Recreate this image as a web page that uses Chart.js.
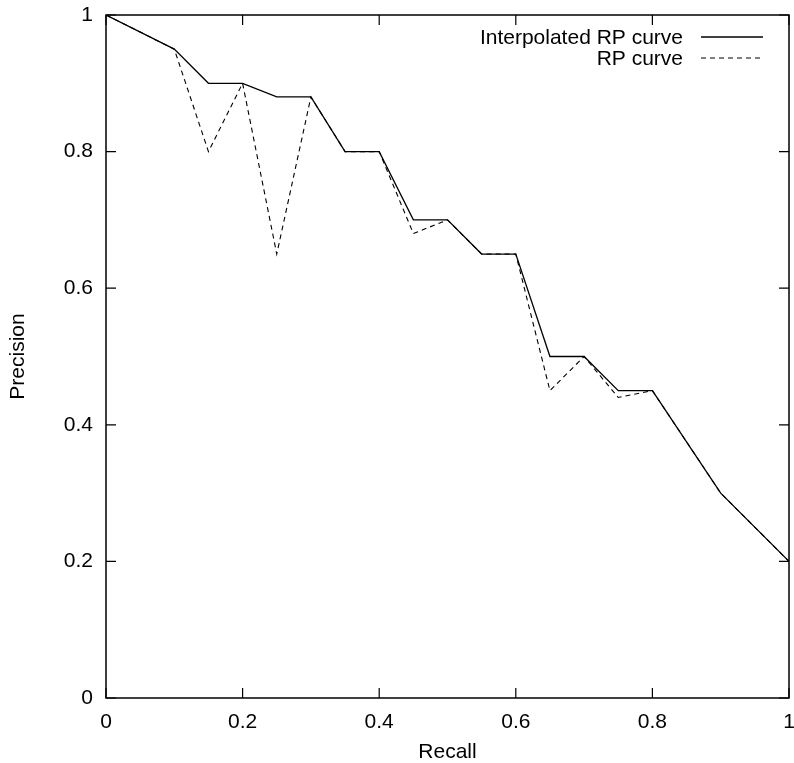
<!DOCTYPE html>
<html>
<head>
<meta charset="utf-8">
<script src="https://cdn.jsdelivr.net/npm/chart.js@4/dist/chart.umd.min.js"></script>
<style>
  html, body { margin: 0; padding: 0; background: #fff; }
  #wrap { width: 794px; height: 763px; }
</style>
</head>
<body>
<div id="wrap"><canvas id="rp-chart" width="794" height="763"></canvas></div>
<script>
// recall levels and the two precision series
const recall = [0, 0.1, 0.15, 0.2, 0.25, 0.3, 0.35, 0.4, 0.45, 0.5, 0.55, 0.6, 0.65, 0.7, 0.75, 0.8, 0.9, 1];
const interpPrecision = [1, 0.95, 0.9, 0.9, 0.88, 0.88, 0.8, 0.8, 0.7, 0.7, 0.65, 0.65, 0.5, 0.5, 0.45, 0.45, 0.3, 0.2];
const rpPrecision = [1, 0.95, 0.8, 0.9, 0.65, 0.88, 0.8, 0.8, 0.68, 0.7, 0.65, 0.65, 0.45, 0.5, 0.44, 0.45, 0.3, 0.2];
const tickValues = [0, 0.2, 0.4, 0.6, 0.8, 1];
const tickLabels = ['0', '0.2', '0.4', '0.6', '0.8', '1'];
const seriesLabels = ['Interpolated RP curve', 'RP curve'];

const FONT = "'Liberation Sans', Arial, Helvetica, sans-serif";

function toPoints(xs, ys) {
  return xs.map((x, i) => ({ x: x, y: ys[i] }));
}

function tickText(value) {
  const i = tickValues.indexOf(value);
  return i >= 0 ? tickLabels[i] : '';
}

// frame + inward ticks on all four sides, gnuplot style
const framePlugin = {
  id: 'frame',
  afterDatasetsDraw(chart) {
    const { ctx, chartArea: a, scales } = chart;
    const len = 10;
    ctx.save();
    ctx.strokeStyle = '#000';
    ctx.lineWidth = 1.5;
    ctx.strokeRect(a.left, a.top, a.right - a.left, a.bottom - a.top);
    ctx.lineWidth = 1.2;
    ctx.beginPath();
    tickValues.forEach(v => {
      const px = scales.x.getPixelForValue(v);
      ctx.moveTo(px, a.bottom); ctx.lineTo(px, a.bottom - len);
      ctx.moveTo(px, a.top); ctx.lineTo(px, a.top + len);
      const py = scales.y.getPixelForValue(v);
      ctx.moveTo(a.left, py); ctx.lineTo(a.left + len, py);
      ctx.moveTo(a.right, py); ctx.lineTo(a.right - len, py);
    });
    ctx.stroke();
    ctx.restore();
  }
};

// key in the top right corner: text first, line sample after it
const keyPlugin = {
  id: 'key',
  afterDraw(chart) {
    const { ctx, chartArea: a } = chart;
    const textRight = a.right - 106;
    const lineStart = a.right - 88;
    const lineEnd = a.right - 26;
    ctx.save();
    ctx.font = '21px ' + FONT;
    ctx.fillStyle = '#000';
    ctx.textAlign = 'right';
    ctx.textBaseline = 'middle';
    chart.data.datasets.forEach((ds, i) => {
      const y = a.top + 22 + i * 21;
      ctx.fillText(ds.label, textRight, y + 1);
      ctx.beginPath();
      ctx.strokeStyle = ds.borderColor;
      ctx.lineWidth = ds.borderWidth;
      ctx.setLineDash(ds.borderDash || []);
      ctx.moveTo(lineStart, y);
      ctx.lineTo(lineEnd, y);
      ctx.stroke();
    });
    ctx.restore();
  }
};

const ctx = document.getElementById('rp-chart').getContext('2d');
new Chart(ctx, {
  type: 'line',
  data: {
    datasets: [
      {
        label: seriesLabels[0],
        data: toPoints(recall, interpPrecision),
        borderColor: '#000',
        borderWidth: 1.3,
        pointRadius: 0,
        tension: 0,
        fill: false
      },
      {
        label: seriesLabels[1],
        data: toPoints(recall, rpPrecision),
        borderColor: '#000',
        borderWidth: 1.1,
        borderDash: [5, 4],
        pointRadius: 0,
        tension: 0,
        fill: false
      }
    ]
  },
  options: {
    responsive: false,
    animation: false,
    layout: { padding: { top: 15, right: 5, left: 0, bottom: 0 } },
    plugins: {
      legend: { display: false },
      tooltip: { enabled: false }
    },
    scales: {
      x: {
        type: 'linear',
        min: 0,
        max: 1,
        afterBuildTicks: scale => { scale.ticks = tickValues.map(v => ({ value: v })); },
        afterFit: scale => {
          scale.height = 65;
          scale.paddingLeft = 0;
          scale.paddingRight = 0;
        },
        grid: { display: false, drawTicks: false },
        border: { display: false },
        ticks: { color: '#000', font: { family: FONT, size: 21 }, padding: 12, maxRotation: 0, callback: v => tickText(v) },
        title: { display: true, text: 'Recall', color: '#000', font: { family: FONT, size: 21 }, padding: { top: 0, bottom: -2 } }
      },
      y: {
        type: 'linear',
        min: 0,
        max: 1,
        afterBuildTicks: scale => { scale.ticks = tickValues.map(v => ({ value: v })); },
        afterFit: scale => {
          scale.width = 106;
          scale.paddingTop = 0;
          scale.paddingBottom = 0;
        },
        grid: { display: false, drawTicks: false },
        border: { display: false },
        ticks: { color: '#000', font: { family: FONT, size: 21 }, padding: 13, callback: v => tickText(v) },
        title: { display: true, text: 'Precision', color: '#000', font: { family: FONT, size: 21 }, padding: { top: 6, bottom: 0 } }
      }
    }
  },
  plugins: [framePlugin, keyPlugin]
});
</script>
</body>
</html>
